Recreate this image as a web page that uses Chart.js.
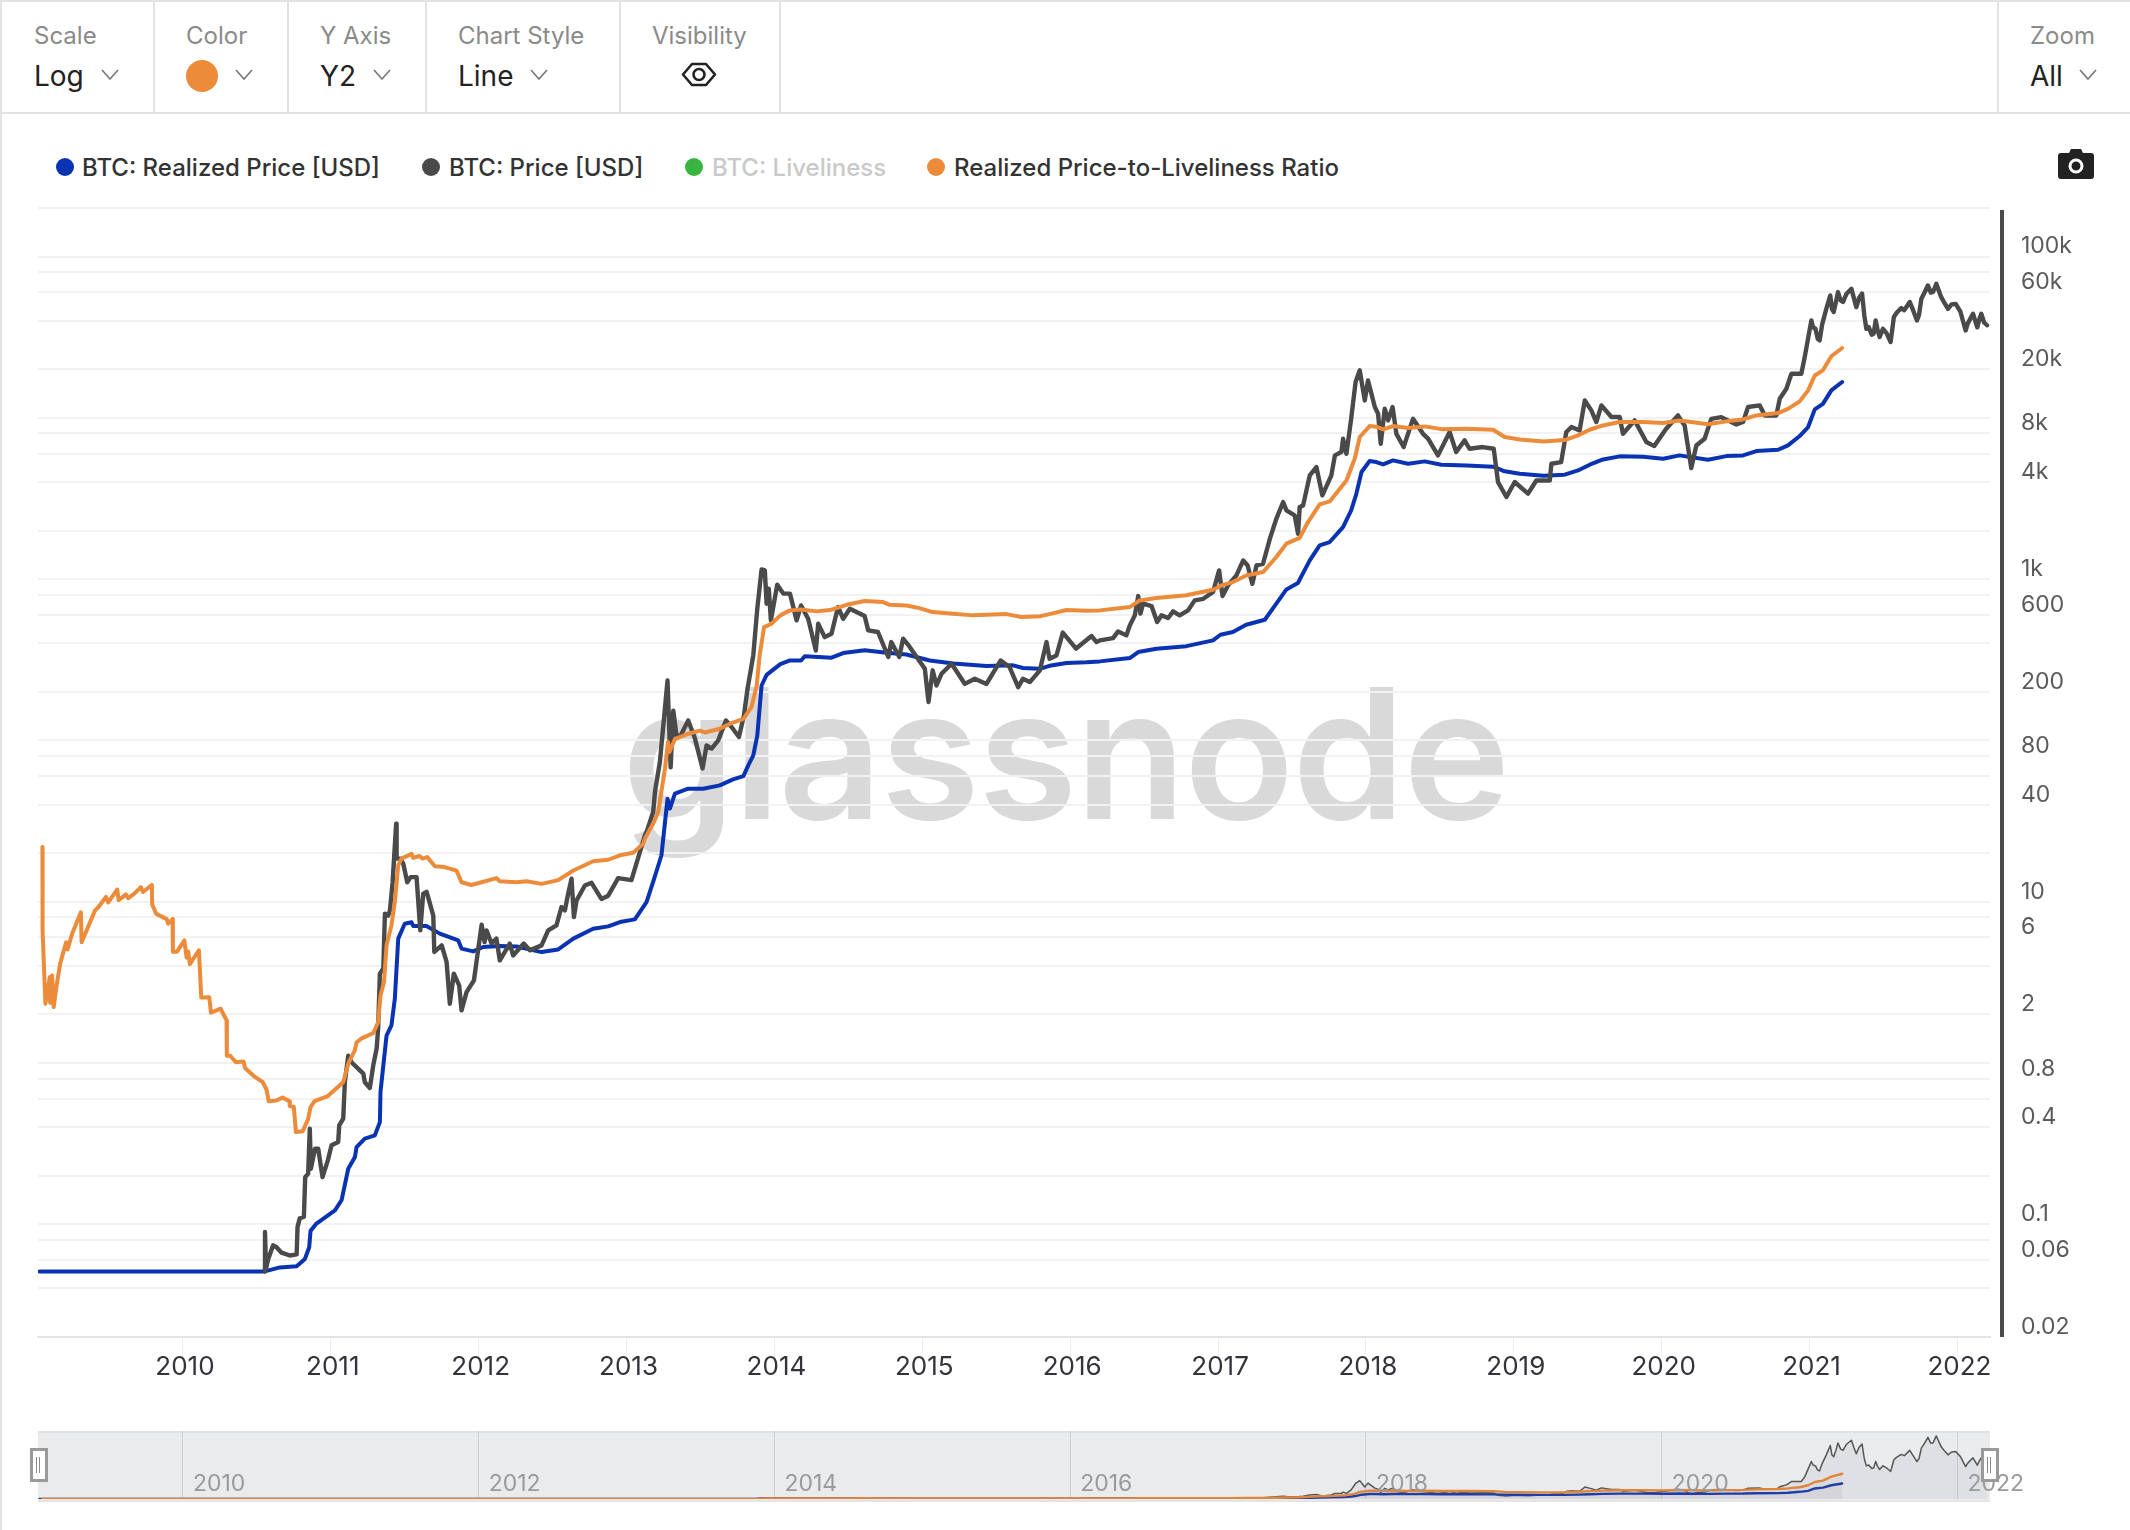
<!DOCTYPE html>
<html>
<head>
<meta charset="utf-8">
<script src="https://cdn.jsdelivr.net/npm/chart.js"></script>
<style>
html, body { margin: 0; padding: 0; background: #fff; }
body { width: 2130px; height: 1530px; position: relative; overflow: hidden; font-family: Inter, "Noto Sans", sans-serif; }
.abs { position: absolute; white-space: nowrap; }
.line { position: absolute; background: #e2e2e2; }
.lab { font-size: 24px; color: #8a8a8a; line-height: 28px; top: 22px; }
.val { font-size: 28px; color: #222; line-height: 34px; top: 59px; }
.chev { position: absolute; top: 69px; width: 18px; height: 12px; }
.dot { position: absolute; width: 18px; height: 18px; border-radius: 50%; top: 158px; }
.leg { font-size: 24px; font-weight: 500; color: #333; line-height: 30px; top: 153px; }
#watermark { left: 622px; top: 644px; font-size: 181px; font-weight: 600; color: #d9d9d9; line-height: 220px; letter-spacing: -2px; }
#main { position: absolute; left: 0; top: 0; }
#nav { position: absolute; left: 0; top: 1425px; }
.handle { position: absolute; top: 1448px; width: 12px; height: 28px; background: #fff; border: 3px solid #9a9a9a; }
.handle i { position: absolute; left: 3px; top: 6px; width: 2px; height: 16px; border-left: 1px solid #888; border-right: 1px solid #888; }
</style>
</head>
<body>
<div class="line" style="left:0;top:0;width:2130px;height:2px"></div>
<div class="line" style="left:0;top:0;width:2px;height:1530px"></div>
<div class="line" style="left:0;top:112px;width:2130px;height:2px"></div>
<div class="line" style="left:153px;top:0;width:2px;height:113px"></div>
<div class="line" style="left:287px;top:0;width:2px;height:113px"></div>
<div class="line" style="left:425px;top:0;width:2px;height:113px"></div>
<div class="line" style="left:619px;top:0;width:2px;height:113px"></div>
<div class="line" style="left:779px;top:0;width:2px;height:113px"></div>
<div class="line" style="left:1997px;top:0;width:2px;height:113px"></div>

<div class="abs lab" style="left:34px">Scale</div>
<div class="abs val" style="left:34px">Log</div>
<svg class="chev" style="left:101px" viewBox="0 0 18 12"><path d="M1 1 L9 10 L17 1" fill="none" stroke="#777" stroke-width="1.6"/></svg>
<div class="abs lab" style="left:186px">Color</div>
<div class="abs" style="left:186px;top:60px;width:32px;height:32px;border-radius:50%;background:#ec8b39"></div>
<svg class="chev" style="left:235px" viewBox="0 0 18 12"><path d="M1 1 L9 10 L17 1" fill="none" stroke="#777" stroke-width="1.6"/></svg>
<div class="abs lab" style="left:320px">Y Axis</div>
<div class="abs val" style="left:320px">Y2</div>
<svg class="chev" style="left:373px" viewBox="0 0 18 12"><path d="M1 1 L9 10 L17 1" fill="none" stroke="#777" stroke-width="1.6"/></svg>
<div class="abs lab" style="left:458px">Chart Style</div>
<div class="abs val" style="left:458px">Line</div>
<svg class="chev" style="left:530px" viewBox="0 0 18 12"><path d="M1 1 L9 10 L17 1" fill="none" stroke="#777" stroke-width="1.6"/></svg>
<div class="abs lab" style="left:652px">Visibility</div>
<svg class="abs" style="left:681px;top:61px" width="36" height="27" viewBox="0 0 36 27"><path d="M2 13.5 L11 3 H25 L34 13.5 L25 24 H11 Z" fill="none" stroke="#222" stroke-width="2.6" stroke-linejoin="round"/><circle cx="18" cy="13.5" r="5.5" fill="none" stroke="#222" stroke-width="2.6"/></svg>
<div class="abs lab" style="left:2030px">Zoom</div>
<div class="abs val" style="left:2030px">All</div>
<svg class="chev" style="left:2079px" viewBox="0 0 18 12"><path d="M1 1 L9 10 L17 1" fill="none" stroke="#777" stroke-width="1.6"/></svg>

<div class="dot" style="left:56px;background:#0a33b4"></div>
<div class="abs leg" style="left:82px">BTC: Realized Price [USD]</div>
<div class="dot" style="left:422px;background:#4a4a4a"></div>
<div class="abs leg" style="left:449px">BTC: Price [USD]</div>
<div class="dot" style="left:685px;background:#38b53f"></div>
<div class="abs leg" style="left:712px;color:#c9c9c9">BTC: Liveliness</div>
<div class="dot" style="left:927px;background:#ec8b39"></div>
<div class="abs leg" style="left:954px">Realized Price-to-Liveliness Ratio</div>
<svg class="abs" style="left:2058px;top:149px" width="36" height="30" viewBox="0 0 36 30"><path d="M3 4 H11 L13 0 H23 L25 4 H33 Q36 4 36 7 V27 Q36 30 33 30 H3 Q0 30 0 27 V7 Q0 4 3 4 Z" fill="#222"/><circle cx="18" cy="17" r="6" fill="none" stroke="#fff" stroke-width="3"/></svg>

<div class="abs" id="watermark">glassnode</div>
<canvas id="main" width="2130" height="1420"></canvas>
<div class="abs" style="left:2000px;top:210px;width:4px;height:1127px;background:#4a4a4a"></div>

<div class="abs" style="left:38px;top:1431px;width:1952px;height:71px;background:#eaebed;border-top:2px solid #e0e1e3;border-bottom:2px solid #e4e4e4;box-sizing:border-box"></div>
<canvas id="nav" width="2130" height="80"></canvas>
<div class="handle" style="left:30px"><i></i></div>
<div class="handle" style="left:1981px"><i></i></div>

<script>
const priceYears = [2010.554,2010.555,2010.562,2010.577,2010.61,2010.633,2010.667,2010.723,2010.769,2010.775,2010.79,2010.818,2010.827,2010.847,2010.858,2010.865,2010.893,2010.915,2010.944,2010.98,2011.005,2011.05,2011.057,2011.084,2011.095,2011.118,2011.14,2011.197,2011.22,2011.23,2011.264,2011.287,2011.31,2011.32,2011.332,2011.355,2011.366,2011.388,2011.4,2011.418,2011.442,2011.445,2011.47,2011.49,2011.517,2011.54,2011.58,2011.605,2011.625,2011.648,2011.693,2011.7,2011.75,2011.783,2011.805,2011.832,2011.868,2011.884,2011.918,2011.968,2011.985,2012.02,2012.04,2012.053,2012.087,2012.12,2012.143,2012.21,2012.233,2012.305,2012.346,2012.425,2012.47,2012.526,2012.56,2012.583,2012.605,2012.628,2012.644,2012.662,2012.718,2012.763,2012.83,2012.876,2012.943,2013.033,2013.056,2013.09,2013.124,2013.135,2013.18,2013.192,2013.225,2013.255,2013.277,2013.298,2013.316,2013.338,2013.365,2013.417,2013.462,2013.514,2013.541,2013.575,2013.62,2013.672,2013.71,2013.76,2013.794,2013.818,2013.857,2013.884,2013.913,2013.935,2013.947,2013.962,2013.976,2014.019,2014.06,2014.105,2014.15,2014.18,2014.228,2014.25,2014.28,2014.296,2014.34,2014.386,2014.43,2014.465,2014.51,2014.61,2014.634,2014.7,2014.77,2014.79,2014.844,2014.87,2014.91,2014.97,2015.017,2015.042,2015.07,2015.096,2015.13,2015.198,2015.288,2015.355,2015.434,2015.53,2015.59,2015.648,2015.68,2015.727,2015.795,2015.84,2015.86,2015.907,2015.95,2016.04,2016.144,2016.178,2016.2,2016.29,2016.324,2016.38,2016.403,2016.437,2016.46,2016.475,2016.493,2016.55,2016.588,2016.617,2016.662,2016.696,2016.74,2016.797,2016.842,2016.9,2016.966,2017.007,2017.03,2017.067,2017.124,2017.17,2017.2,2017.232,2017.26,2017.304,2017.35,2017.394,2017.44,2017.462,2017.518,2017.541,2017.552,2017.575,2017.62,2017.665,2017.705,2017.766,2017.79,2017.834,2017.845,2017.868,2017.9,2017.93,2017.958,2017.992,2018.014,2018.06,2018.082,2018.1,2018.127,2018.15,2018.18,2018.206,2018.255,2018.318,2018.386,2018.42,2018.487,2018.566,2018.61,2018.667,2018.7,2018.79,2018.864,2018.893,2018.95,2019.006,2019.096,2019.152,2019.243,2019.254,2019.32,2019.355,2019.39,2019.445,2019.48,2019.524,2019.558,2019.592,2019.66,2019.716,2019.738,2019.817,2019.896,2019.95,2020.03,2020.11,2020.155,2020.2,2020.234,2020.29,2020.335,2020.403,2020.505,2020.55,2020.584,2020.663,2020.697,2020.775,2020.798,2020.843,2020.877,2020.944,2020.967,2021.012,2021.023,2021.04,2021.055,2021.068,2021.085,2021.113,2021.14,2021.151,2021.163,2021.178,2021.192,2021.21,2021.226,2021.25,2021.283,2021.3,2021.316,2021.335,2021.355,2021.37,2021.384,2021.4,2021.42,2021.433,2021.447,2021.46,2021.474,2021.496,2021.52,2021.548,2021.57,2021.59,2021.62,2021.64,2021.66,2021.677,2021.7,2021.726,2021.74,2021.756,2021.78,2021.8,2021.82,2021.835,2021.857,2021.89,2021.91,2021.936,2021.96,2021.988,2022.02,2022.055,2022.07,2022.105,2022.134,2022.15,2022.161,2022.18,2022.2];
const priceValues = [0.051,0.0895,0.053,0.061,0.074,0.072,0.0667,0.064,0.065,0.096,0.109,0.111,0.196,0.206,0.392,0.221,0.294,0.294,0.196,0.249,0.309,0.324,0.41,0.452,0.762,1.11,1.01,0.9,0.86,0.76,0.70,0.966,1.23,1.63,3.58,3.85,8.43,8.2,8.83,13.2,30.5,18.5,18.5,17.2,13.2,14.2,14.2,6.64,11.2,11.5,8.2,4.88,5.36,4.23,2.33,3.58,3.03,2.12,2.75,3.25,4.23,7.2,5.62,6.64,5.5,5.9,4.33,5.5,4.64,5.5,4.99,5.36,6.64,7.13,9.27,8.83,11.2,13.9,8.03,10.2,12.6,13.1,10.4,10.9,14,13.6,16,20.3,25.8,27,36,47.9,73,143,235,68,153,107,107,133,103,67,93,89,100,133,121,105,143,209,337,655,1148,1133,704,871,555,923,813,813,555,687,568,470,361,529,437,458,671,568,655,590,481,470,329,407,329,427,385,321,278,173,272,219,259,299,224,241,224,313,285,214,241,230,272,407,321,336,466,371,444,407,417,431,474,448,516,596,785,611,705,681,542,596,574,631,596,640,738,755,832,1133,785,914,1054,1306,1216,935,1216,1245,1778,2366,3006,2669,2483,1910,2800,2865,4395,4955,3304,4395,5848,6135,7420,5984,9862,16680,19700,12820,17050,11670,10600,6900,11400,9640,11670,7960,6590,9860,7960,7430,5850,8170,6140,7250,6430,6590,6430,3998,3230,4000,3390,4090,4090,5190,5320,8170,8770,8350,12820,11120,9420,11940,10120,10120,7960,9640,7080,6680,8550,10350,8970,4880,6745,7420,9860,10100,9100,9420,11670,11940,10350,10350,13120,15140,18750,18750,23800,40200,36500,35600,30900,30200,38000,47400,57400,47400,45300,52200,60200,53500,52300,58800,63100,55000,48600,55500,58900,43200,35600,36500,32800,33200,40200,35000,31700,35600,33500,29500,42200,45000,47900,46500,49500,52300,46500,40200,43500,54700,60500,66200,59800,60300,67700,56000,52000,47400,50500,50900,45500,34800,38500,44200,36400,41500,44200,39000,37500];

const realizedYears = [2009.03,2010.554,2010.656,2010.769,2010.825,2010.854,2010.863,2010.903,2011.028,2011.073,2011.118,2011.163,2011.174,2011.23,2011.298,2011.332,2011.336,2011.377,2011.41,2011.433,2011.456,2011.5,2011.546,2011.557,2011.647,2011.737,2011.862,2011.884,2011.963,2012.03,2012.143,2012.256,2012.425,2012.538,2012.64,2012.774,2012.876,2012.955,2013.056,2013.135,2013.19,2013.236,2013.277,2013.293,2013.327,2013.417,2013.518,2013.63,2013.72,2013.79,2013.823,2013.857,2013.884,2013.913,2013.947,2014.04,2014.105,2014.18,2014.206,2014.386,2014.465,2014.61,2014.758,2014.893,2015.05,2015.21,2015.434,2015.614,2015.68,2015.795,2015.86,2015.975,2016.11,2016.2,2016.403,2016.46,2016.583,2016.786,2016.966,2017.016,2017.1,2017.19,2017.316,2017.394,2017.462,2017.54,2017.62,2017.687,2017.755,2017.845,2017.9,2017.935,2017.97,2018.025,2018.07,2018.116,2018.183,2018.285,2018.397,2018.51,2018.68,2018.86,2018.938,2019.04,2019.2,2019.344,2019.434,2019.513,2019.603,2019.716,2019.874,2020.01,2020.12,2020.313,2020.437,2020.55,2020.64,2020.787,2020.854,2020.933,2020.99,2021.035,2021.09,2021.147,2021.22];
const realizedValues = [0.051,0.051,0.054,0.055,0.061,0.072,0.091,0.101,0.122,0.141,0.221,0.261,0.301,0.34,0.356,0.43,0.66,1.48,1.71,2.5,5.9,7.3,7.45,7.07,7.07,6.34,5.75,5.12,4.92,5.24,5.31,5.28,4.87,5.06,5.9,6.8,7.03,7.48,7.77,9.95,14.2,19.4,43.5,37.8,46.8,50.2,50.1,52.6,57.3,60,70,80.7,107,219,255,297,313,313,333,326,348,362,350,341,313,300,289,292,281,278,290,302,305,309,324,353,370,384,417,452,470,521,560,705,863,946,1306,1618,1698,2103,2668,3381,4613,5395,5320,5140,5445,5190,5370,5120,5070,4980,4660,4500,4375,4440,4720,5120,5520,5770,5740,5575,5850,5500,5790,5850,6220,6340,6745,7710,8770,11280,12200,14790,16670];

const ratioYears = [2009.05,2009.051,2009.07,2009.10,2009.102,2009.115,2009.126,2009.146,2009.17,2009.21,2009.22,2009.25,2009.31,2009.315,2009.405,2009.43,2009.48,2009.495,2009.556,2009.565,2009.615,2009.63,2009.675,2009.716,2009.73,2009.79,2009.792,2009.82,2009.89,2009.90,2009.93,2009.932,2009.96,2010.01,2010.025,2010.036,2010.047,2010.108,2010.124,2010.178,2010.19,2010.255,2010.295,2010.297,2010.32,2010.358,2010.41,2010.42,2010.487,2010.54,2010.566,2010.58,2010.633,2010.674,2010.72,2010.723,2010.75,2010.764,2010.81,2010.847,2010.863,2010.89,2010.98,2011.084,2011.1,2011.118,2011.163,2011.174,2011.208,2011.287,2011.32,2011.336,2011.36,2011.377,2011.41,2011.433,2011.456,2011.478,2011.546,2011.557,2011.6,2011.62,2011.652,2011.704,2011.77,2011.85,2011.884,2011.95,2012.02,2012.12,2012.143,2012.256,2012.324,2012.425,2012.538,2012.64,2012.774,2012.876,2012.955,2013.045,2013.113,2013.124,2013.18,2013.214,2013.26,2013.28,2013.29,2013.327,2013.417,2013.496,2013.53,2013.63,2013.7,2013.79,2013.845,2013.88,2013.9,2013.93,2013.98,2014.04,2014.105,2014.18,2014.285,2014.375,2014.488,2014.61,2014.735,2014.78,2014.893,2014.98,2015.07,2015.21,2015.344,2015.569,2015.67,2015.795,2015.86,2015.975,2016.11,2016.2,2016.403,2016.47,2016.583,2016.786,2016.966,2017.023,2017.1,2017.19,2017.304,2017.394,2017.462,2017.552,2017.608,2017.687,2017.755,2017.868,2017.924,2017.958,2018.025,2018.07,2018.116,2018.183,2018.285,2018.397,2018.51,2018.68,2018.86,2018.938,2019.04,2019.2,2019.344,2019.434,2019.513,2019.603,2019.716,2019.874,2020.01,2020.12,2020.2,2020.313,2020.437,2020.55,2020.64,2020.787,2020.854,2020.933,2020.99,2021.035,2021.09,2021.147,2021.22];
const ratioValues = [21.8,6.6,2.33,3.41,2.36,3.49,2.22,3.03,4.13,5.6,5.06,6.3,8.6,5.6,8.8,9.3,10.7,9.9,11.9,10.2,11.1,10.5,11.3,12.3,11.5,12.7,9.6,8.4,7.8,7.3,7.8,4.9,4.9,5.75,4.5,4.9,4.1,5.0,2.55,2.56,2.05,2.17,1.84,1.11,1.11,1.01,1.02,0.93,0.82,0.76,0.68,0.58,0.586,0.61,0.58,0.54,0.533,0.373,0.377,0.45,0.533,0.58,0.624,0.76,0.86,0.99,1.2,1.34,1.42,1.53,1.79,2.62,3.18,5.36,7.13,9.96,16.8,18.5,19.8,18.7,19.2,18.5,18.9,16.6,16.4,15.6,13.2,12.7,13.2,14,13.4,13.2,13.4,12.9,13.6,15.6,17.8,18.2,19.4,20.1,22.9,24.6,30.5,36,66.9,97.7,84.8,102,110,115,112,118,127,136,161,219,337,504,529,596,640,649,631,643,693,731,721,693,687,661,625,610,596,607,582,588,607,643,637,640,671,738,764,795,859,914,959,1054,1106,1371,1660,1800,2259,2904,3034,4093,5572,7603,8892,8810,8473,8892,8650,8850,8510,8550,8433,7603,7345,7145,7280,7780,8433,8970,9420,9420,9290,9640,9420,9120,9510,9780,10350,10710,11370,12650,14800,18300,19700,24100,27100];

const xTickYears = [2010,2011,2012,2013,2014,2015,2016,2017,2018,2019,2020,2021,2022];
const navTickYears = [2010,2012,2014,2016,2018,2020,2022];
const yGridTicks = [200000,100000,80000,60000,40000,20000,10000,8000,6000,4000,2000,1000,800,600,400,200,100,80,60,40,20,10,8,6,4,2,1,0.8,0.6,0.4,0.2,0.1,0.08,0.06,0.04,0.02];
const yTickValues = [100000,60000,20000,8000,4000,1000,600,200,80,40,10,6,2,0.8,0.4,0.1,0.06,0.02];
const yTickLabels = ['100k','60k','20k','8k','4k','1k','600','200','80','40','10','6','2','0.8','0.4','0.1','0.06','0.02'];

const BLUE = '#0a33b4', GREY = '#4a4a4a', ORANGE = '#ec8b39';
const toXY = (xs, ys) => xs.map((x, i) => ({ x: x, y: ys[i] }));

function lineSet(label, xs, ys, color, width, fillColor) {
    return {
        label: label,
        data: toXY(xs, ys),
        borderColor: color,
        borderWidth: width,
        backgroundColor: fillColor || 'transparent',
        fill: fillColor ? 'origin' : false,
        pointRadius: 0,
        tension: 0,
        borderJoinStyle: 'round',
        borderCapStyle: 'round'
    };
}

// first dataset is painted last, so the ratio sits on top
new Chart(document.getElementById('main'), {
    type: 'line',
    data: {
        datasets: [
            lineSet('Realized Price-to-Liveliness Ratio', ratioYears, ratioValues, ORANGE, 4),
            lineSet('BTC: Price [USD]', priceYears, priceValues, GREY, 4.4),
            lineSet('BTC: Realized Price [USD]', realizedYears, realizedValues, BLUE, 4),
            { label: 'BTC: Liveliness', data: [], borderColor: '#38b53f', hidden: true }
        ]
    },
    options: {
        responsive: false,
        animation: false,
        devicePixelRatio: 1,
        layout: { padding: { left: 38, top: 208, right: 0, bottom: 0 } },
        plugins: { legend: { display: false }, tooltip: { enabled: false } },
        scales: {
            x: {
                type: 'linear',
                min: 2009.02,
                max: 2022.22,
                afterBuildTicks: s => { s.ticks = xTickYears.map(v => ({ value: v })); },
                afterFit: s => { s.height = 83; },
                grid: { drawOnChartArea: false, drawTicks: true, tickLength: 20, tickColor: '#eeeeee', lineWidth: 1 },
                border: { color: '#e4e4e4', width: 2 },
                ticks: {
                    autoSkip: false, maxRotation: 0, padding: -5, labelOffset: 2,
                    color: '#33333b',
                    font: { family: 'Inter', size: 26 },
                    callback: v => String(v)
                }
            },
            y: {
                type: 'logarithmic',
                position: 'right',
                min: 0.02,
                max: 200000,
                afterBuildTicks: s => { s.ticks = yGridTicks.map(v => ({ value: v })); },
                afterFit: s => { s.width = 140; },
                grid: { color: '#f2f2f2', lineWidth: 2, drawTicks: false },
                border: { display: false },
                ticks: {
                    autoSkip: false, padding: 31, labelOffset: -10,
                    color: '#5a5a5a',
                    font: { family: 'Inter', size: 23 },
                    callback: v => { const i = yTickValues.indexOf(v); return i < 0 ? '' : yTickLabels[i]; }
                }
            }
        }
    }
});

// overview strip: year labels sit just right of their grid line
const navLabels = {
    id: 'navLabels',
    afterDraw(chart) {
        const c = chart.ctx, sx = chart.scales.x;
        c.save();
        c.fillStyle = '#9a9a9e';
        c.font = '23px Inter';
        c.textBaseline = 'middle';
        navTickYears.forEach(y => c.fillText(String(y), sx.getPixelForValue(y) + 10, 59));
        c.restore();
    }
};

new Chart(document.getElementById('nav'), {
    type: 'line',
    data: {
        datasets: [
            lineSet('Ratio', ratioYears, ratioValues, '#e0853a', 2.4, 'rgba(120,120,130,0.06)'),
            lineSet('Realized', realizedYears, realizedValues, '#1a3aa8', 2.4, 'rgba(120,120,130,0.06)'),
            lineSet('Price', priceYears, priceValues, '#555555', 1.5, 'rgba(120,120,130,0.09)')
        ]
    },
    options: {
        responsive: false,
        animation: false,
        devicePixelRatio: 1,
        layout: { padding: { left: 38, right: 140, top: 6, bottom: 6 } },
        plugins: { legend: { display: false }, tooltip: { enabled: false } },
        scales: {
            x: {
                type: 'linear',
                min: 2009.02,
                max: 2022.22,
                afterBuildTicks: s => { s.ticks = navTickYears.map(v => ({ value: v })); },
                afterFit: s => { s.height = 0; },
                grid: { color: '#cfd0d3', lineWidth: 1, drawTicks: false },
                border: { display: false },
                ticks: { display: false }
            },
            y: { display: false, min: 0, max: 73000 }
        }
    },
    plugins: [navLabels]
});
</script>
</body>
</html>
